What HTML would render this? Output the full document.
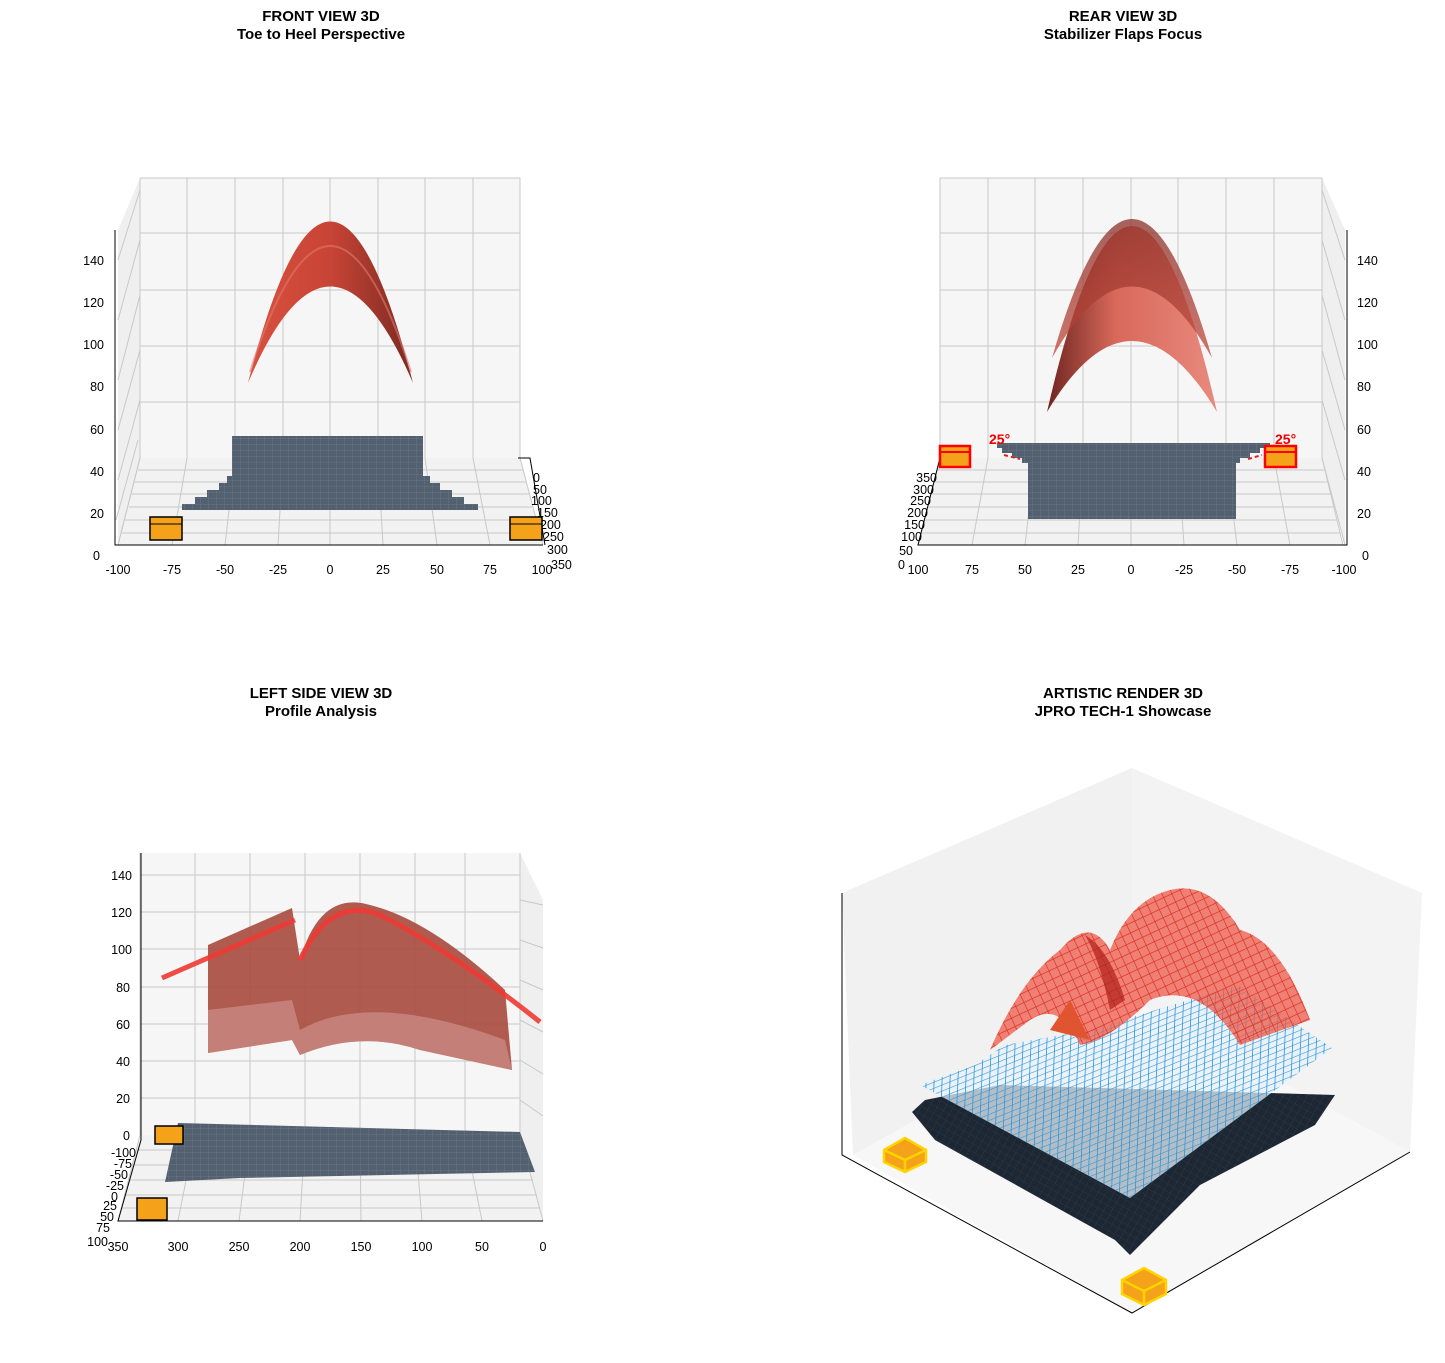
<!DOCTYPE html>
<html><head><meta charset="utf-8"><style>
body{margin:0;background:#fff}
svg text{font-family:"Liberation Sans",sans-serif}
.t{font-weight:bold;font-size:15px;text-anchor:middle}
.tk{font-size:12.5px}
.g{stroke:#c8c8c8;stroke-width:1;fill:none}
</style></head><body>
<svg width="1445" height="1358" viewBox="0 0 1445 1358" xmlns="http://www.w3.org/2000/svg">
<defs>
<linearGradient id="r1" x1="0" x2="1"><stop offset="0" stop-color="#d9503f"/><stop offset="0.5" stop-color="#c84436"/><stop offset="1" stop-color="#7a2a22"/></linearGradient>
<linearGradient id="r2" x1="0" x2="1"><stop offset="0" stop-color="#6e2520"/><stop offset="0.4" stop-color="#d8685a"/><stop offset="1" stop-color="#e88a7e"/></linearGradient>
<linearGradient id="r2b" x1="0" y1="0" x2="0" y2="1"><stop offset="0" stop-color="#8a3028"/><stop offset="1" stop-color="#c0483c"/></linearGradient>
<pattern id="gm" width="8" height="6" patternUnits="userSpaceOnUse"><rect width="8" height="6" fill="#536070"/><path d="M0 0H8M0 0V6" stroke="#7a8694" stroke-width="0.5"/></pattern>
<pattern id="bm" width="7" height="7" patternUnits="userSpaceOnUse" patternTransform="skewX(-30) rotate(-28)"><path d="M0 0H7M0 0V7" stroke="#2f93d6" stroke-width="1.4"/></pattern>
<pattern id="km" width="7" height="7" patternUnits="userSpaceOnUse" patternTransform="rotate(30)"><rect width="7" height="7" fill="#1c2733"/><path d="M0 0H7M0 0V7" stroke="#33404d" stroke-width="0.6"/></pattern>
<pattern id="rm" width="9" height="9" patternUnits="userSpaceOnUse" patternTransform="rotate(-25)"><path d="M0 0H9M0 0V9" stroke="#d9281c" stroke-width="1.2"/></pattern>
</defs>

<text class="t" x="321" y="21">FRONT VIEW 3D</text><text class="t" x="321" y="39">Toe to Heel Perspective</text>
<text class="t" x="1123" y="21">REAR VIEW 3D</text><text class="t" x="1123" y="39">Stabilizer Flaps Focus</text>
<text class="t" x="321" y="698">LEFT SIDE VIEW 3D</text><text class="t" x="321" y="716">Profile Analysis</text>
<text class="t" x="1123" y="698">ARTISTIC RENDER 3D</text><text class="t" x="1123" y="716">JPRO TECH-1 Showcase</text>

<!-- ===== Panel 1 ===== -->
<polygon points="140,178 520,178 520,458 140,458" fill="#f6f6f6"/>
<polygon points="118,230 140,178 140,458 118,545" fill="#efefef"/>
<polygon points="140,458 520,458 543,545 118,545" fill="#f2f2f2"/>
<g class="g">
<path d="M140 178V458M187 178V458M235 178V458M283 178V458M330 178V458M378 178V458M425 178V458M473 178V458M520 178V458"/>
<path d="M140 178H520M140 233H520M140 290H520M140 346H520M140 402H520"/>
<path d="M140 458L118 545M187 458L172 545M235 458L225 545M283 458L278 545M330 458L330 545M378 458L383 545M425 458L437 545M473 458L490 545M520 458L543 545"/>
<path d="M138 470H523M135 482H526M132 494H529M129 507H532M125 520H536M122 533H539"/>
<path d="M118 545L140 458M116 520L138 440M118 480L140 400M118 430L140 350M118 380L140 295M118 320L140 240M118 260L140 190"/>
</g>
<path d="M115 230V545H543" stroke="#000" fill="none"/>
<g class="tk" text-anchor="end"><text x="104" y="265">140</text><text x="104" y="307">120</text><text x="104" y="349">100</text><text x="104" y="391">80</text><text x="104" y="434">60</text><text x="104" y="476">40</text><text x="104" y="518">20</text><text x="100" y="560">0</text></g>
<g class="tk" text-anchor="middle"><text x="118" y="574">-100</text><text x="172" y="574">-75</text><text x="225" y="574">-50</text><text x="278" y="574">-25</text><text x="330" y="574">0</text><text x="383" y="574">25</text><text x="437" y="574">50</text><text x="490" y="574">75</text><text x="542" y="574">100</text></g>
<path d="M518 458H530L545 545" stroke="#000" fill="none"/>
<g class="tk"><text x="533" y="482">0</text><text x="533" y="494">50</text><text x="531" y="505">100</text><text x="537" y="517">150</text><text x="540" y="529">200</text><text x="543" y="541">250</text><text x="547" y="554">300</text><text x="551" y="569">350</text></g>
<path d="M182 510V504H195V497H207V490H219V483H227V476H232V436H423V476H430V483H440V490H452V497H464V504H478V510Z" fill="url(#gm)"/>
<path d="M248 383Q330 60 413 383Q330 190 248 383Z" fill="url(#r1)"/>
<path d="M250 372Q330 120 411 372" stroke="#e07a6c" stroke-width="2" fill="none" opacity="0.6"/>
<rect x="150" y="517" width="32" height="23" fill="#f5a21b" stroke="#000" stroke-width="1.5"/><path d="M150 524H182" stroke="#000"/>
<rect x="510" y="517" width="32" height="23" fill="#f5a21b" stroke="#000" stroke-width="1.5"/><path d="M510 524H542" stroke="#000"/>

<!-- ===== Panel 2 ===== -->
<polygon points="940,178 1322,178 1322,458 940,458" fill="#f6f6f6"/>
<polygon points="1345,230 1322,178 1322,458 1345,545" fill="#efefef"/>
<polygon points="940,458 1322,458 1343,545 918,545" fill="#f2f2f2"/>
<g class="g">
<path d="M940 178V458M988 178V458M1035 178V458M1083 178V458M1131 178V458M1178 178V458M1226 178V458M1274 178V458M1322 178V458"/>
<path d="M940 178H1322M940 233H1322M940 290H1322M940 346H1322M940 402H1322"/>
<path d="M940 458L918 545M988 458L972 545M1035 458L1025 545M1083 458L1078 545M1131 458L1131 545M1178 458L1184 545M1226 458L1237 545M1274 458L1290 545M1322 458L1343 545"/>
<path d="M937 470H1325M934 482H1328M931 494H1331M928 507H1334M925 520H1337M922 533H1340"/>
<path d="M1345 545L1322 458M1345 480L1322 400M1345 430L1322 350M1345 380L1322 295M1345 320L1322 240M1345 260L1322 190"/>
</g>
<path d="M1347 230V545H918L940 458" stroke="#000" fill="none"/>
<g class="tk"><text x="1357" y="265">140</text><text x="1357" y="307">120</text><text x="1357" y="349">100</text><text x="1357" y="391">80</text><text x="1357" y="434">60</text><text x="1357" y="476">40</text><text x="1357" y="518">20</text><text x="1362" y="560">0</text></g>
<g class="tk" text-anchor="middle"><text x="918" y="574">100</text><text x="972" y="574">75</text><text x="1025" y="574">50</text><text x="1078" y="574">25</text><text x="1131" y="574">0</text><text x="1184" y="574">-25</text><text x="1237" y="574">-50</text><text x="1290" y="574">-75</text><text x="1344" y="574">-100</text></g>
<g class="tk" text-anchor="end"><text x="937" y="482">350</text><text x="934" y="494">300</text><text x="931" y="505">250</text><text x="928" y="517">200</text><text x="925" y="529">150</text><text x="922" y="541">100</text><text x="913" y="555">50</text><text x="905" y="569">0</text></g>
<path d="M997 443H1270V448H1260V453H1250V458H1240V463H1236V519H1028V463H1022V458H1012V453H1002V448H997Z" fill="url(#gm)"/>
<path d="M1004 455L1020 459M1248 459L1262 455" stroke="#e02020" stroke-width="2" stroke-dasharray="4 3"/>
<path d="M1047 412Q1132 40 1217 412Q1132 270 1047 412Z" fill="url(#r2)"/>
<path d="M1052 358Q1132 80 1212 358Q1132 215 1052 358Z" fill="url(#r2b)" opacity="0.75"/>
<rect x="940" y="446" width="30" height="21" fill="#f5a21b" stroke="#f00" stroke-width="2.5"/><path d="M940 452H970" stroke="#f00" stroke-width="2"/>
<rect x="1265" y="446" width="31" height="21" fill="#f5a21b" stroke="#f00" stroke-width="2.5"/><path d="M1265 452H1296" stroke="#f00" stroke-width="2"/>
<text x="989" y="444" fill="#e00" font-weight="bold" font-size="14">25°</text>
<text x="1275" y="444" fill="#e00" font-weight="bold" font-size="14">25°</text>

<!-- ===== Panel 3 ===== -->
<polygon points="140,853 520,853 520,1135 140,1135" fill="#f6f6f6"/>
<polygon points="520,853 543,900 543,1221 520,1135" fill="#efefef"/>
<polygon points="140,1135 520,1135 543,1221 118,1221" fill="#f2f2f2"/>
<g class="g">
<path d="M140 853V1135M195 853V1135M250 853V1135M305 853V1135M360 853V1135M415 853V1135M465 853V1135M520 853V1135"/>
<path d="M140 875H520M140 912H520M140 949H520M140 987H520M140 1024H520M140 1061H520M140 1098H520"/>
<path d="M140 1135L118 1221M195 1135L178 1221M250 1135L239 1221M305 1135L300 1221M360 1135L361 1221M415 1135L422 1221M465 1135L482 1221M520 1135L543 1221"/>
<path d="M136 1150H525M132 1165H529M128 1180H533M124 1195H537M121 1208H540"/>
<path d="M520 900L543 905M520 940L543 948M520 980L543 990M520 1020L543 1032M520 1060L543 1074M520 1100L543 1116"/>
</g>
<path d="M141 853V1140L118 1221H543" stroke="#000" fill="none"/>
<g class="tk" text-anchor="end"><text x="132" y="880">140</text><text x="132" y="917">120</text><text x="132" y="954">100</text><text x="130" y="992">80</text><text x="130" y="1029">60</text><text x="130" y="1066">40</text><text x="130" y="1103">20</text><text x="130" y="1140">0</text>
<text x="136" y="1157">-100</text><text x="132" y="1168">-75</text><text x="128" y="1179">-50</text><text x="124" y="1190">-25</text><text x="118" y="1201">0</text><text x="117" y="1210">25</text><text x="114" y="1221">50</text><text x="110" y="1232">75</text><text x="108" y="1246">100</text></g>
<g class="tk" text-anchor="middle"><text x="118" y="1251">350</text><text x="178" y="1251">300</text><text x="239" y="1251">250</text><text x="300" y="1251">200</text><text x="361" y="1251">150</text><text x="422" y="1251">100</text><text x="482" y="1251">50</text><text x="543" y="1251">0</text></g>
<path d="M178 1123L520 1132L535 1172L240 1178L165 1182Z" fill="url(#gm)"/>
<path d="M208 945L292 908L300 960Q320 890 370 905Q430 920 505 990L512 1070L420 1050Q360 1030 300 1055L292 1040L208 1053Z" fill="#a94a3e" opacity="0.9"/>
<path d="M208 1010L292 1000L300 1030Q370 990 505 1040L512 1070L420 1050Q360 1030 300 1055L292 1040L208 1053Z" fill="#c98a82" opacity="0.8"/>
<path d="M162 978L295 920M300 960Q330 895 380 915Q450 950 540 1022" stroke="#ee3a33" stroke-width="5" fill="none" opacity="0.9"/>
<rect x="155" y="1126" width="28" height="18" fill="#f5a21b" stroke="#000" stroke-width="1.5"/>
<rect x="137" y="1198" width="30" height="22" fill="#f5a21b" stroke="#000" stroke-width="1.5"/>

<!-- ===== Panel 4 ===== -->
<polygon points="842,893 1132,768 1132,1000 853,1155" fill="#f1f1f1"/>
<polygon points="1132,768 1422,893 1410,1152 1132,1000" fill="#f3f3f3"/>
<polygon points="853,1155 1132,1000 1410,1152 1132,1313" fill="#f7f7f7"/>
<path d="M842 893V1155L1132 1313L1410 1152" stroke="#000" fill="none"/>
<path d="M912 1112L925 1100L1000 1085L1335 1095L1315 1125L1200 1185L1130 1255L1115 1240L935 1140Z" fill="url(#km)"/>
<path d="M920 1085L975 1065L1005 1045L1090 1030L1238 985L1332 1048L1130 1198Z" fill="#e4f1fa" opacity="0.75"/>
<path d="M920 1085L975 1065L1005 1045L1090 1030L1238 985L1332 1048L1130 1198Z" fill="url(#bm)"/>
<path d="M990 1050Q1020 980 1060 950Q1090 915 1110 950Q1130 900 1170 890Q1210 880 1240 930Q1280 940 1310 1020L1240 1045Q1200 980 1150 1000Q1110 1040 1080 1045Q1060 1000 1030 1020Z" fill="#ee5a48" opacity="0.75"/>
<path d="M990 1050Q1020 980 1060 950Q1090 915 1110 950Q1130 900 1170 890Q1210 880 1240 930Q1280 940 1310 1020L1240 1045Q1200 980 1150 1000Q1110 1040 1080 1045Q1060 1000 1030 1020Z" fill="url(#rm)"/>
<path d="M1085 935Q1110 950 1125 1000L1110 1010Q1100 960 1085 935Z" fill="#b02018" opacity="0.7"/>
<path d="M1050 1030L1070 1000L1090 1040Z" fill="#e05530"/>
<g stroke="#ffd400" stroke-width="2.5"><path d="M884 1150L905 1138L926 1150V1162L905 1172L884 1162Z" fill="#f5a21b"/><path d="M884 1150L905 1160L926 1150M905 1160V1172" fill="none"/>
<path d="M1122 1280L1144 1268L1166 1280V1294L1144 1305L1122 1294Z" fill="#f5a21b"/><path d="M1122 1280L1144 1291L1166 1280M1144 1291V1305" fill="none"/></g>
</svg>
</body></html>
